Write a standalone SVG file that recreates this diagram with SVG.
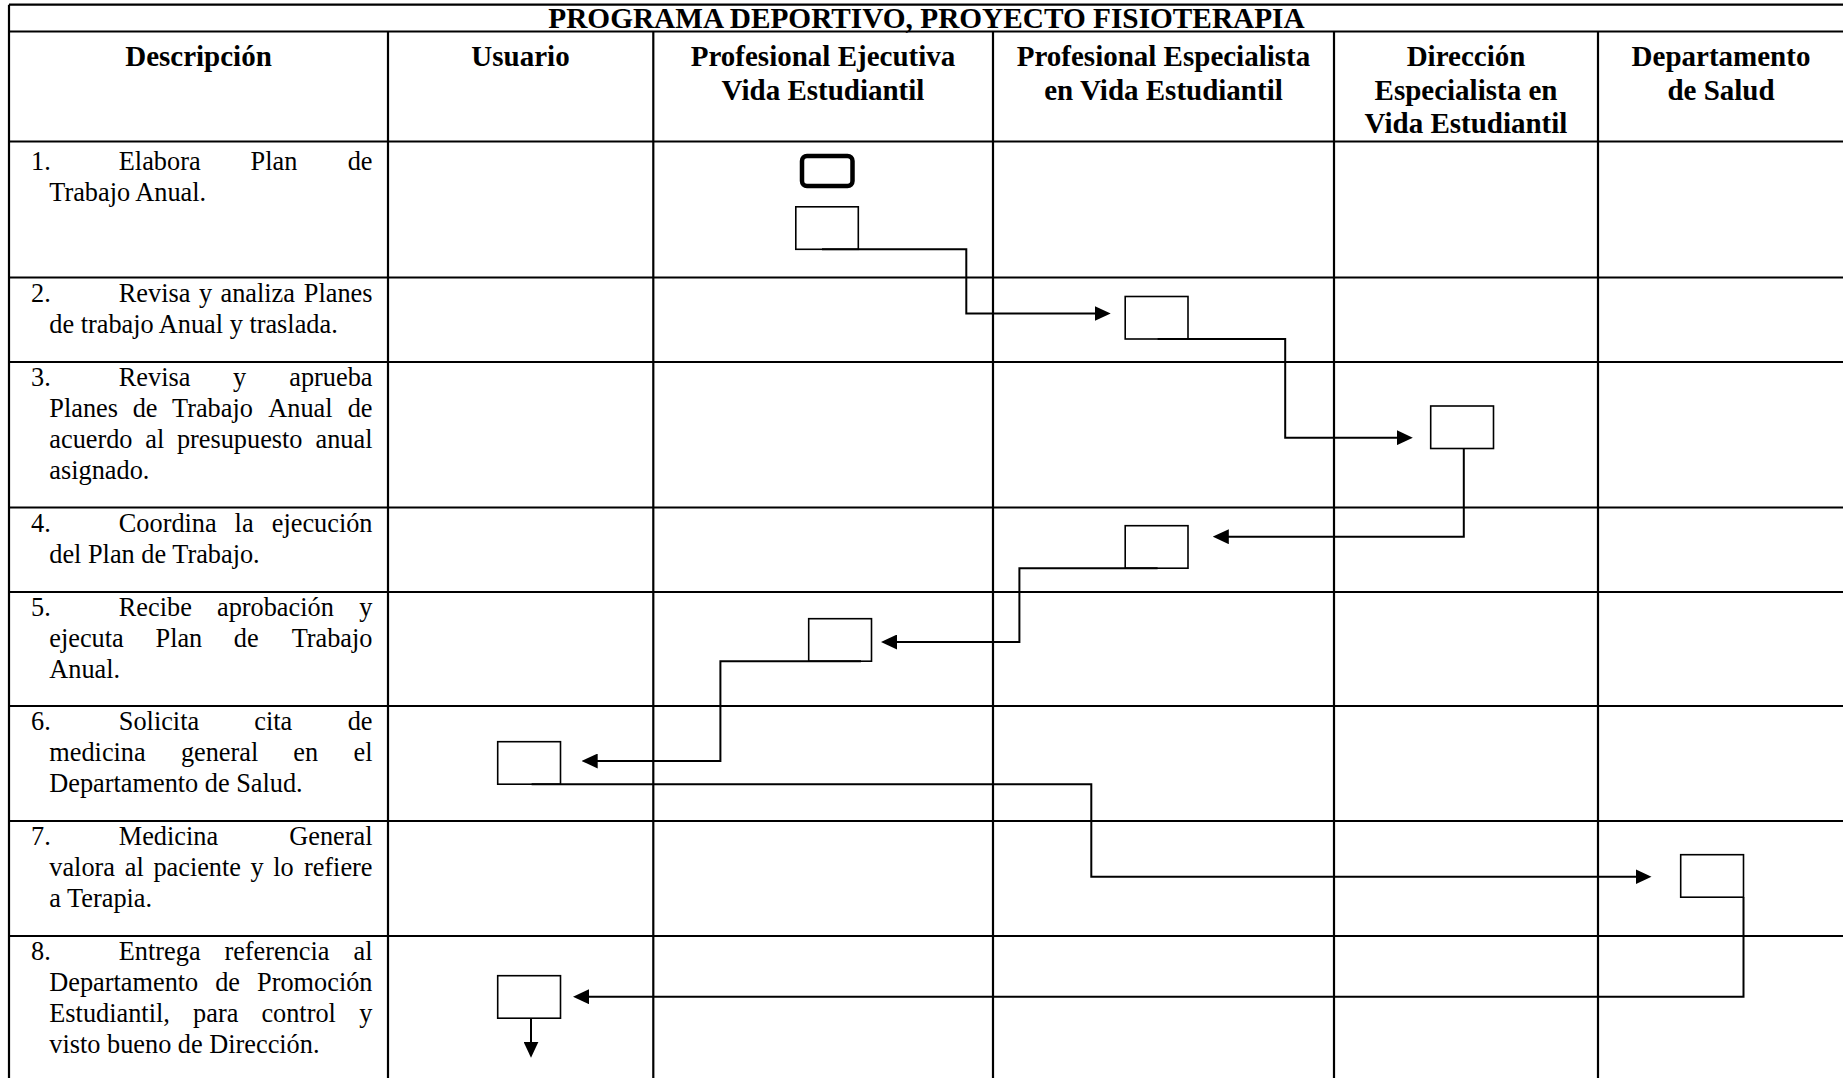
<svg xmlns="http://www.w3.org/2000/svg" width="1843" height="1078" viewBox="0 0 1843 1078">
<style>
.g{stroke:#000;stroke-width:2.2;fill:none}
.t{font-family:"Liberation Serif","Times New Roman",serif;font-size:26.3px;fill:#000}
.e{text-anchor:end}
.h{font-family:"Liberation Serif","Times New Roman",serif;font-size:29px;font-weight:bold;text-anchor:middle;fill:#000}
.ti{font-size:29.3px}
.box{fill:#fff;stroke:#000;stroke-width:1.6}
.term{fill:#fff;stroke:#000;stroke-width:4.5}
.c{fill:none;stroke:#000;stroke-width:2;marker-end:url(#ah)}
</style>
<defs>
<marker id="ah" markerWidth="16" markerHeight="15" refX="6" refY="7.5" orient="auto" markerUnits="userSpaceOnUse"><path d="M0,0 L16,7.5 L0,15 z" fill="#000"/></marker>
</defs>
<rect x="0" y="0" width="1843" height="1078" fill="#fff"/>
<g id="table" class="g">
<path d="M9,4.7 H1843 M9,31.5 H1843 M9,141.5 H1843 M9,277.5 H1843 M9,362 H1843 M9,507.5 H1843 M9,592 H1843 M9,706 H1843 M9,821 H1843 M9,936 H1843"/>
<path d="M9,4.7 V1078 M388,31.5 V1078 M653.3,31.5 V1078 M993,31.5 V1078 M1334,31.5 V1078 M1598,31.5 V1078"/>
</g>
<g id="headers">
<text class="h ti" x="926.5" y="28.3">PROGRAMA DEPORTIVO, PROYECTO FISIOTERAPIA</text>
<text class="h" x="198.5" y="66">Descripción</text>
<text class="h" x="520.5" y="66">Usuario</text>
<text class="h" x="823" y="66">Profesional Ejecutiva</text>
<text class="h" x="823" y="99.5">Vida Estudiantil</text>
<text class="h" x="1163.5" y="66">Profesional Especialista</text>
<text class="h" x="1163.5" y="99.5">en Vida Estudiantil</text>
<text class="h" x="1466" y="66">Dirección</text>
<text class="h" x="1466" y="99.5">Especialista en</text>
<text class="h" x="1466" y="133">Vida Estudiantil</text>
<text class="h" x="1721" y="66">Departamento</text>
<text class="h" x="1721" y="99.5">de Salud</text>
</g>
<g id="descriptions">
<text class="t" x="31" y="170">1.</text><text class="t" x="118.8" y="170">Elabora</text><text class="t" x="250.6" y="170">Plan</text><text class="t e" x="372.5" y="170">de</text>
<text class="t" x="49.3" y="201">Trabajo Anual.</text>

<text class="t" x="31" y="301.5">2.</text><text class="t" x="118.8" y="301.5">Revisa</text><text class="t" x="199" y="301.5">y</text><text class="t" x="220.5" y="301.5">analiza</text><text class="t e" x="372.5" y="301.5">Planes</text>
<text class="t" x="49.3" y="332.5">de trabajo Anual y traslada.</text>

<text class="t" x="31" y="386">3.</text><text class="t" x="118.8" y="386">Revisa</text><text class="t" x="233.1" y="386">y</text><text class="t e" x="372.5" y="386">aprueba</text>
<text class="t" x="49.3" y="417">Planes</text><text class="t" x="132.7" y="417">de</text><text class="t" x="172" y="417">Trabajo</text><text class="t" x="268.3" y="417">Anual</text><text class="t e" x="372.5" y="417">de</text>
<text class="t" x="49.3" y="448">acuerdo</text><text class="t" x="145.3" y="448">al</text><text class="t" x="176.9" y="448">presupuesto</text><text class="t e" x="372.5" y="448">anual</text>
<text class="t" x="49.3" y="479">asignado.</text>

<text class="t" x="31" y="531.5">4.</text><text class="t" x="118.8" y="531.5">Coordina</text><text class="t" x="234.6" y="531.5">la</text><text class="t e" x="372.5" y="531.5">ejecución</text>
<text class="t" x="49.3" y="562.5">del Plan de Trabajo.</text>

<text class="t" x="31" y="616">5.</text><text class="t" x="118.8" y="616">Recibe</text><text class="t" x="217" y="616">aprobación</text><text class="t e" x="372.5" y="616">y</text>
<text class="t" x="49.3" y="647">ejecuta</text><text class="t" x="155.5" y="647">Plan</text><text class="t" x="233.8" y="647">de</text><text class="t e" x="372.5" y="647">Trabajo</text>
<text class="t" x="49.3" y="678">Anual.</text>

<text class="t" x="31" y="730">6.</text><text class="t" x="118.8" y="730">Solicita</text><text class="t" x="254.3" y="730">cita</text><text class="t e" x="372.5" y="730">de</text>
<text class="t" x="49.3" y="761">medicina</text><text class="t" x="180.9" y="761">general</text><text class="t" x="293.3" y="761">en</text><text class="t e" x="372.5" y="761">el</text>
<text class="t" x="49.3" y="792">Departamento de Salud.</text>

<text class="t" x="31" y="845">7.</text><text class="t" x="118.8" y="845">Medicina</text><text class="t e" x="372.5" y="845">General</text>
<text class="t" x="49.3" y="876">valora</text><text class="t" x="124.8" y="876">al</text><text class="t" x="153.4" y="876">paciente</text><text class="t" x="250.6" y="876">y</text><text class="t" x="273.3" y="876">lo</text><text class="t e" x="372.5" y="876">refiere</text>
<text class="t" x="49.3" y="907">a Terapia.</text>

<text class="t" x="31" y="960">8.</text><text class="t" x="118.8" y="960">Entrega</text><text class="t" x="224.4" y="960">referencia</text><text class="t e" x="372.5" y="960">al</text>
<text class="t" x="49.3" y="991">Departamento</text><text class="t" x="215.2" y="991">de</text><text class="t e" x="372.5" y="991">Promoción</text>
<text class="t" x="49.3" y="1022">Estudiantil,</text><text class="t" x="193.1" y="1022">para</text><text class="t" x="261.4" y="1022">control</text><text class="t e" x="372.5" y="1022">y</text>
<text class="t" x="49.3" y="1053">visto bueno de Dirección.</text>
</g>
<g id="start"><rect class="term" x="802" y="156" width="50.5" height="30" rx="5"/></g>
<g id="step1"><rect class="box" x="795.8" y="206.8" width="62.5" height="42.5"/></g>
<g id="step2"><rect class="box" x="1125.2" y="296.5" width="62.8" height="42.5"/></g>
<g id="step3"><rect class="box" x="1430.7" y="406" width="62.8" height="42.5"/></g>
<g id="step4"><rect class="box" x="1125.2" y="525.7" width="62.8" height="42.5"/></g>
<g id="step5"><rect class="box" x="808.7" y="618.7" width="62.8" height="42.5"/></g>
<g id="step6"><rect class="box" x="497.7" y="741.7" width="62.8" height="42.5"/></g>
<g id="step7"><rect class="box" x="1680.7" y="854.7" width="62.8" height="42.5"/></g>
<g id="step8"><rect class="box" x="497.7" y="975.7" width="62.8" height="42.5"/></g>
<g id="connectors">
<path class="c" d="M822,249.3 H966.3 V313.5 H1100.7"/>
<path class="c" d="M1157.6,339 H1285.2 V437.7 H1402.8"/>
<path class="c" d="M1463.8,448.5 V536.7 H1222.8"/>
<path class="c" d="M1157.6,568.2 H1019.4 V642 H891"/>
<path class="c" d="M861,661.2 H720.4 V761 H591.7"/>
<path class="c" d="M531.6,784.2 H1091.3 V876.7 H1641.5"/>
<path class="c" d="M1743.5,897.2 V996.7 H583"/>
<path class="c" d="M531,1018.2 V1047.7"/>
</g>
</svg>
